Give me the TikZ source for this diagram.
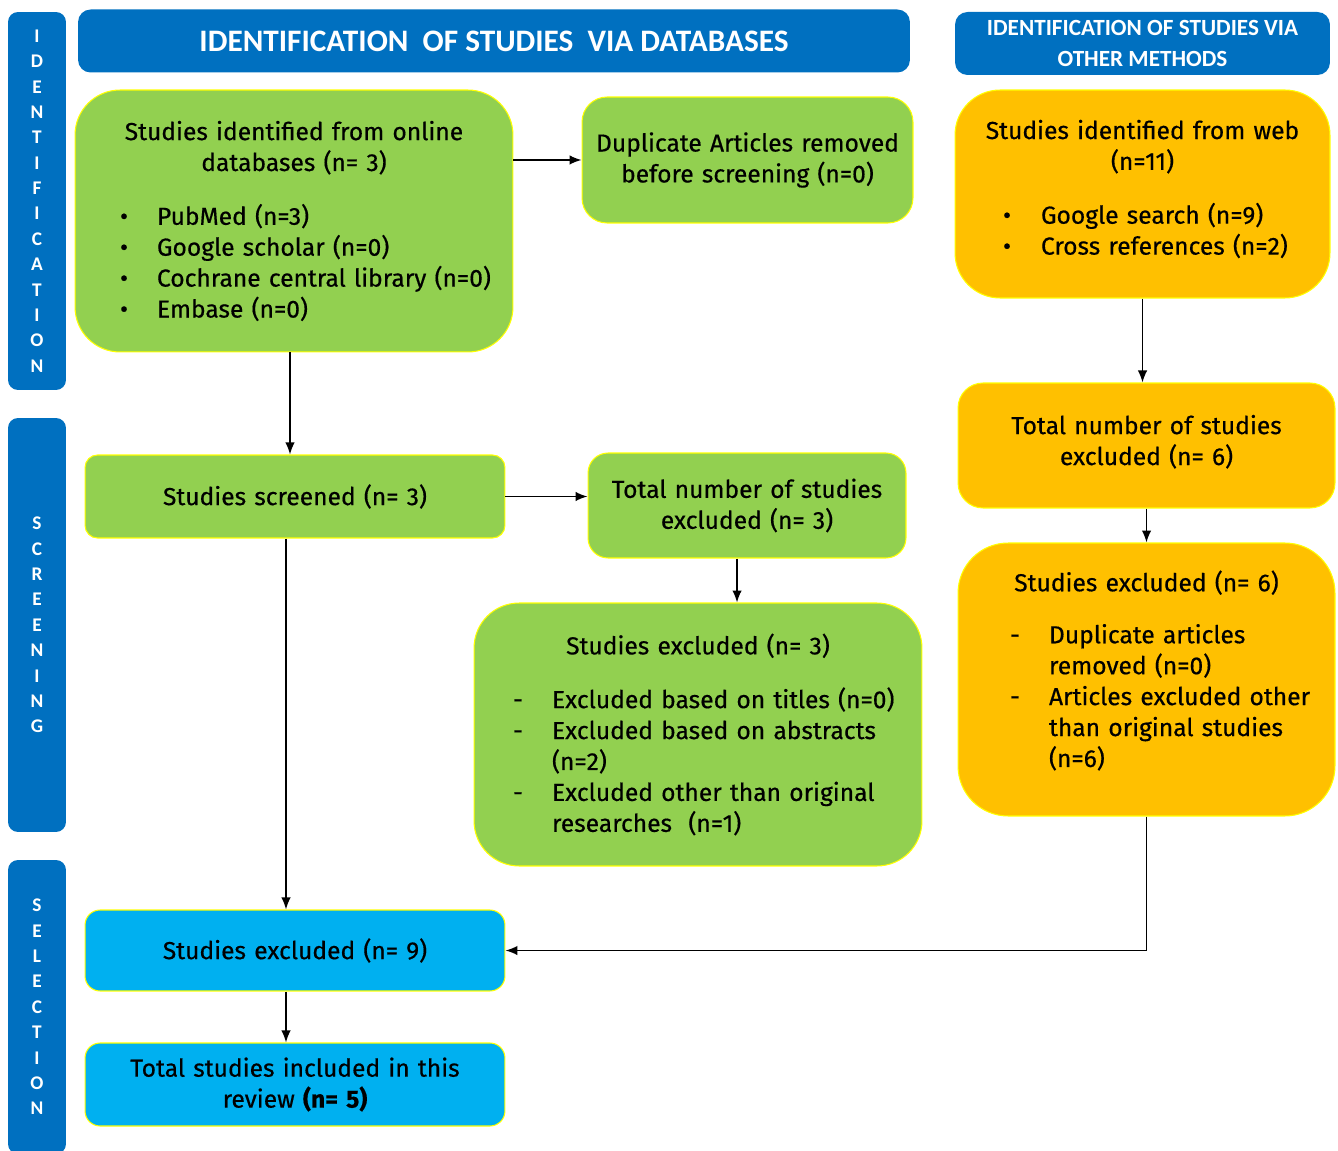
\documentclass[tikz,border=0pt]{standalone}
\usepackage{fontspec}
\setmainfont{Fira Sans}[FakeBold=0.5]
\newfontfamily\hdfont{Carlito}
\usetikzlibrary{arrows.meta}

\definecolor{barblue}{HTML}{0070C0}
\definecolor{boxgreen}{HTML}{92D050}
\definecolor{boxorange}{HTML}{FFC000}
\definecolor{boxcyan}{HTML}{00B0F0}
\definecolor{rim}{HTML}{FFFF00}

% list line: symbol position, text indent, symbol, text
\newcommand{\lst}[4]{\par\noindent\hangindent=#2\hangafter=1\hbox to #2{\hspace*{#1}#3\hss}#4\par}
% centred title lines inside a left aligned box
\newcommand{\ttl}[1]{{\centering #1\par}}
% empty space under the last line
\newcommand{\pad}[1]{\par\nointerlineskip\vbox to #1{}}

\begin{document}
\begin{tikzpicture}[
			x=0.02cm, y=-0.02cm,
			bar/.style={fill=barblue, rounded corners=0.2cm, minimum width=1.16cm, inner sep=0pt,
				text=white, align=center, font=\hdfont\bfseries\fontsize{11}{14.45}\selectfont},
			head/.style={fill=barblue, rounded corners=0.25cm, minimum height=1.26cm, inner sep=0pt,
				text=white, align=center},
			box/.style={draw=rim, line width=0.6pt, inner sep=0pt, align=center,
				font=\fontsize{14}{17.6}\selectfont},
			greenbox/.style={box, fill=boxgreen},
			orangebox/.style={box, fill=boxorange},
			cyanbox/.style={box, fill=boxcyan},
			arr/.style={-{Latex[length=2.4mm,width=1.9mm]}, line width=0.85pt}
		]
		\useasboundingbox (0,0) rectangle (1338,1151);

		% phase bars
		\node[bar, minimum height=7.56cm] (identbar) at (37,201) {I\\D\\E\\N\\T\\I\\F\\I\\C\\A\\T\\I\\O\\N};
		\node[bar, minimum height=8.28cm] (screenbar) at (37,625) {S\\C\\R\\E\\E\\N\\I\\N\\G};
		\node[bar, minimum height=5.88cm] (selectbar) at (37,1007) {S\\E\\L\\E\\C\\T\\I\\O\\N};

		% headers
		\node[head, minimum width=16.64cm, font=\hdfont\bfseries\fontsize{17.8}{20}\selectfont] (dbhead) at (494,41)
			{IDENTIFICATION~ OF STUDIES~ VIA DATABASES};
		\node[head, minimum width=7.5cm, font=\hdfont\bfseries\fontsize{13.2}{17.6}\selectfont] (webhead) at (1142.5,43.5)
			{IDENTIFICATION OF STUDIES VIA\\OTHER METHODS};

		% databases column
		\node[greenbox, text width=8.76cm, minimum height=5.24cm, rounded corners=0.9cm, align=left] (dbs) at (294,221) {%
			\ttl{Studies identified from online\\databases (n= 3)}\vspace{13pt}
			\lst{0.9cm}{1.64cm}{\textbullet}{PubMed (n=3)}
			\lst{0.9cm}{1.64cm}{\textbullet}{Google scholar (n=0)}
			\lst{0.9cm}{1.64cm}{\textbullet}{Cochrane central library (n=0)}
			\lst{0.9cm}{1.64cm}{\textbullet}{Embase (n=0)}};
		\node[greenbox, text width=6.62cm, minimum height=2.52cm, rounded corners=0.5cm] (dup) at (747.5,160)
			{Duplicate Articles removed\\before screening (n=0)};
		\node[greenbox, text width=8.4cm, minimum height=1.66cm, rounded corners=0.25cm] (scr) at (295,496.5)
			{Studies screened (n= 3)};
		\node[greenbox, text width=6.36cm, minimum height=2.1cm, rounded corners=0.4cm] (dbexcl) at (747,505.5)
			{Total number of studies\\excluded (n= 3)};
		\node[greenbox, text width=8.96cm, minimum height=5.26cm, rounded corners=0.9cm, align=left] (dbreas) at (698,734.5) {%
			\ttl{Studies excluded (n= 3)}\vspace{13pt}
			\lst{0.78cm}{1.56cm}{-}{Excluded based on titles (n=0)}
			\lst{0.78cm}{1.56cm}{-}{Excluded based on abstracts\newline (n=2)}
			\lst{0.78cm}{1.56cm}{-}{Excluded other than original\newline researches~ (n=1)}};

		% other methods column
		\node[orangebox, text width=7.5cm, minimum height=4.16cm, rounded corners=0.9cm, align=left] (web) at (1142.5,194) {%
			\ttl{Studies identified from web\\(n=11)}\vspace{13pt}
			\lst{0.96cm}{1.72cm}{\textbullet}{Google search (n=9)}
			\lst{0.96cm}{1.72cm}{\textbullet}{Cross references (n=2)}\pad{0.2cm}};
		\node[orangebox, text width=7.54cm, minimum height=2.5cm, rounded corners=0.5cm] (webexcl) at (1146.5,445.5)
			{Total number of studies\\excluded (n= 6)\pad{0.15cm}};
		\node[orangebox, text width=7.54cm, minimum height=5.46cm, rounded corners=1cm, align=left] (webreas) at (1146.5,679.5) {%
			\ttl{Studies excluded (n= 6)}\vspace{12pt}
			\lst{1.04cm}{1.82cm}{-}{Duplicate articles\newline removed (n=0)}
			\lst{1.04cm}{1.82cm}{-}{Articles excluded other\newline than original studies\newline (n=6)}\pad{0.36cm}};

		% selection
		\node[cyanbox, text width=8.4cm, minimum height=1.62cm, rounded corners=0.3cm] (excl) at (295,950.5)
			{Studies excluded (n= 9)};
		\node[cyanbox, text width=8.4cm, minimum height=1.66cm, rounded corners=0.3cm] (incl) at (295,1084.5)
			{Total studies included in this\\review \textbf{(n= 5)}};

		% connectors
		\draw[arr] (dbs.east |- dup.west) -- (dup.west);
		\draw[arr] ([xshift=-0.08cm]dbs.south) -- ([xshift=-0.08cm]dbs.south |- scr.north);
		\draw[arr] (scr.east) -- (scr.east -| dbexcl.west);
		\draw[arr] ([xshift=-0.2cm]dbexcl.south) -- ([xshift=-0.2cm]dbexcl.south |- dbreas.north);
		\draw[arr] ([xshift=-0.18cm]scr.south) -- ([xshift=-0.18cm]scr.south |- excl.north);
		\draw[arr] (web.south) -- (web.south |- webexcl.north);
		\draw[arr] (webexcl.south) -- (webexcl.south |- webreas.north);
		\draw[arr] (webreas.south) |- (excl.east);
		\draw[arr] ([xshift=-0.18cm]excl.south) -- ([xshift=-0.18cm]incl.north);
	\end{tikzpicture}
\end{document}
